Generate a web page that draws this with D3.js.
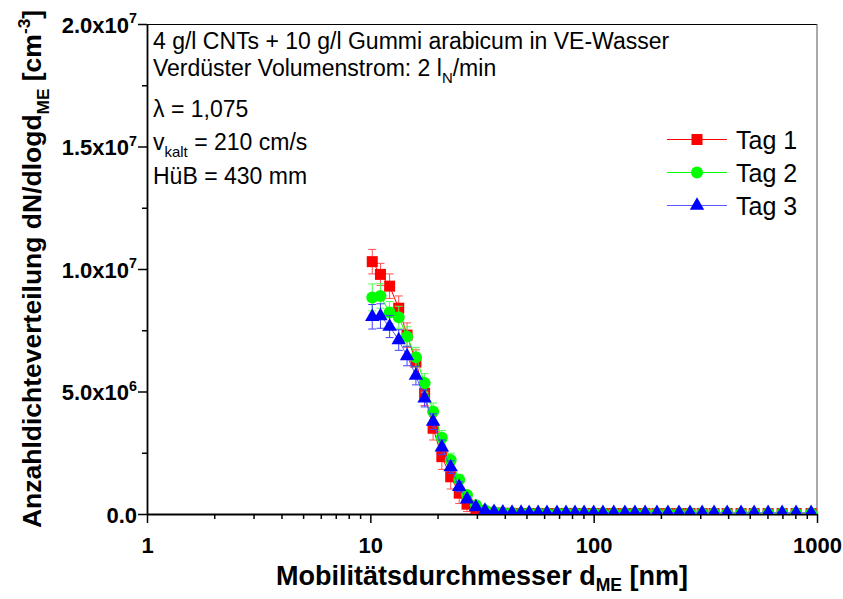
<!DOCTYPE html>
<html>
<head>
<meta charset="utf-8">
<script src="https://cdn.jsdelivr.net/npm/d3@7"></script>
<style>
  body { margin: 0; background: #fff; }
  svg { font-family: Arial, "Liberation Sans", sans-serif; }
</style>
</head>
<body>
<svg id="chart" width="843" height="599"></svg>
<script>
// mobility diameter channels [nm]
const diameters = [10.2, 11.1, 12.2, 13.4, 14.6, 16.0, 17.5, 19.1, 20.9, 22.9, 25.0, 27.1, 29.7, 32.6,
  35.8, 39.2, 43.1, 47.3, 51.4, 56.4, 61.8, 68.5, 75.2, 82.5, 90.6, 100, 110, 123, 138, 153, 170,
  192, 215, 241, 270, 306, 346, 396, 457, 523, 604, 698, 806, 941];

// dN/dlogd [cm^-3]
const tag1 = [10.3e6, 9.78e6, 9.3e6, 8.4e6, 7.3e6, 6.2e6, 4.93e6, 3.5e6, 2.34e6, 1.52e6, 0.85e6, 0.40e6,
  0.16e6, 0.07e6, 0.04e6, 0.03e6, 0.025e6, 0.02e6, 0.02e6, 0.02e6, 0.02e6, 0.02e6, 0.02e6, 0.02e6,
  0.02e6, 0.02e6, 0.02e6, 0.02e6, 0.02e6, 0.02e6, 0.02e6, 0.02e6, 0.02e6, 0.02e6, 0.02e6, 0.02e6,
  0.02e6, 0.02e6, 0.02e6, 0.02e6, 0.02e6, 0.02e6, 0.02e6, 0.02e6];
const tag2 = [8.84e6, 8.9e6, 8.22e6, 8.03e6, 7.24e6, 6.4e6, 5.35e6, 4.18e6, 3.11e6, 2.2e6, 1.4e6, 0.78e6,
  0.36e6, 0.15e6, 0.08e6, 0.05e6, 0.04e6, 0.035e6, 0.035e6, 0.035e6, 0.035e6, 0.035e6, 0.035e6, 0.035e6,
  0.035e6, 0.035e6, 0.035e6, 0.035e6, 0.035e6, 0.035e6, 0.035e6, 0.035e6, 0.035e6, 0.035e6, 0.035e6,
  0.035e6, 0.035e6, 0.035e6, 0.035e6, 0.035e6, 0.035e6, 0.035e6, 0.035e6, 0.035e6];
const tag3 = [8.05e6, 8.08e6, 7.65e6, 7.1e6, 6.45e6, 5.65e6, 4.72e6, 3.77e6, 2.72e6, 1.91e6, 1.11e6, 0.6e6,
  0.28e6, 0.14e6, 0.09e6, 0.07e6, 0.06e6, 0.055e6, 0.05e6, 0.05e6, 0.05e6, 0.05e6, 0.05e6, 0.05e6,
  0.05e6, 0.05e6, 0.05e6, 0.05e6, 0.05e6, 0.05e6, 0.05e6, 0.05e6, 0.05e6, 0.05e6, 0.05e6, 0.05e6,
  0.05e6, 0.05e6, 0.05e6, 0.05e6, 0.05e6, 0.05e6, 0.05e6, 0.05e6];

// standard deviations
const err1 = [0.5e6, 0.45e6, 0.5e6, 0.5e6, 0.5e6, 0.5e6, 0.5e6, 0.48e6, 0.52e6, 0.5e6, 0.42e6, 0.3e6,
  0.15e6, 0.06e6, 0.03e6, 0.02e6, 0.01e6, 0.01e6, 0.01e6, 0.01e6, 0.01e6, 0.01e6, 0.01e6, 0.01e6,
  0.01e6, 0.01e6, 0.01e6, 0.01e6, 0.01e6, 0.01e6, 0.01e6, 0.01e6, 0.01e6, 0.01e6, 0.01e6, 0.01e6,
  0.01e6, 0.01e6, 0.01e6, 0.01e6, 0.01e6, 0.01e6, 0.01e6, 0.01e6];
const err2 = [0.55e6, 0.5e6, 0.45e6, 0.45e6, 0.4e6, 0.4e6, 0.38e6, 0.35e6, 0.3e6, 0.28e6, 0.22e6, 0.15e6,
  0.08e6, 0.04e6, 0.02e6, 0.01e6, 0.01e6, 0.01e6, 0.01e6, 0.01e6, 0.01e6, 0.01e6, 0.01e6, 0.01e6,
  0.01e6, 0.01e6, 0.01e6, 0.01e6, 0.01e6, 0.01e6, 0.01e6, 0.01e6, 0.01e6, 0.01e6, 0.01e6, 0.01e6,
  0.01e6, 0.01e6, 0.01e6, 0.01e6, 0.01e6, 0.01e6, 0.01e6, 0.01e6];
const err3 = [0.5e6, 0.5e6, 0.45e6, 0.42e6, 0.4e6, 0.38e6, 0.35e6, 0.32e6, 0.3e6, 0.26e6, 0.2e6, 0.12e6,
  0.07e6, 0.03e6, 0.02e6, 0.01e6, 0.01e6, 0.01e6, 0.01e6, 0.01e6, 0.01e6, 0.01e6, 0.01e6, 0.01e6,
  0.01e6, 0.01e6, 0.01e6, 0.01e6, 0.01e6, 0.01e6, 0.01e6, 0.01e6, 0.01e6, 0.01e6, 0.01e6, 0.01e6,
  0.01e6, 0.01e6, 0.01e6, 0.01e6, 0.01e6, 0.01e6, 0.01e6, 0.01e6];

const seriesNames = ['Tag 1', 'Tag 2', 'Tag 3'];
const xTicks = [1, 10, 100, 1000];
const yTicks = [0, 5e6, 1e7, 1.5e7, 2e7];

const series = [
  { name: seriesNames[0], values: tag1, errors: err1, color: '#ff0000', line: '#ff0000', bar: '#ff5050', symbol: 'square' },
  { name: seriesNames[1], values: tag2, errors: err2, color: '#00ff00', line: '#00ff00', bar: '#50ff50', symbol: 'circle' },
  { name: seriesNames[2], values: tag3, errors: err3, color: '#0000ff', line: '#5a5aff', bar: '#4040ff', symbol: 'triangle' },
];

const margin = { top: 24, right: 26, bottom: 85, left: 147 };
const width = 843 - margin.left - margin.right;
const height = 599 - margin.top - margin.bottom;

const svg = d3.select('#chart');
const g = svg.append('g').attr('transform', `translate(${margin.left},${margin.top})`);

const x = d3.scaleLog().domain([1, 1000]).range([0, width]);
const y = d3.scaleLinear().domain([0, 2e7]).range([height, 0]);

// text with sub/superscripts: parts = [[text, 'sub'|'sup'|undefined], ...]
function richText(sel, parts, size, subShift = 0.3) {
  let shift = 0;
  parts.forEach(([t, kind]) => {
    const target = kind === 'sub' ? size * subShift : kind === 'sup' ? -size * 0.42 : 0;
    sel.append('tspan')
      .attr('dy', target - shift)
      .attr('font-size', kind ? size * 0.65 : size)
      .text(t);
    shift = target;
  });
}

// frame
g.append('line').attr('x1', 0).attr('x2', width).attr('y1', 0.5).attr('y2', 0.5)
  .attr('stroke', '#000').attr('stroke-width', 1);
g.append('line').attr('x1', width).attr('x2', width).attr('y1', 0).attr('y2', height)
  .attr('stroke', '#555').attr('stroke-width', 1);

// minor ticks
const xMinor = [];
[1, 10, 100].forEach(d => { for (let k = 2; k <= 9; k++) xMinor.push(d * k); });
g.append('g').attr('transform', `translate(0,${height})`)
  .call(d3.axisBottom(x).tickValues(xMinor).tickSize(5).tickFormat(''))
  .call(a => a.select('.domain').remove())
  .selectAll('line').attr('stroke-width', 1.5);
g.append('g')
  .call(d3.axisLeft(y).tickValues([2.5e6, 7.5e6, 1.25e7, 1.75e7]).tickSize(5).tickFormat(''))
  .call(a => a.select('.domain').remove())
  .selectAll('line').attr('stroke-width', 1.5);

// x axis
const xAxis = g.append('g').attr('transform', `translate(0,${height})`)
  .call(d3.axisBottom(x).tickValues(xTicks).tickSize(9).tickSizeOuter(0).tickFormat(d3.format('d')));
xAxis.select('.domain').attr('stroke-width', 1.8);
xAxis.selectAll('.tick line').attr('stroke-width', 1.5);
xAxis.selectAll('.tick text')
  .attr('font-family', 'Arial, "Liberation Sans", sans-serif')
  .attr('font-size', 22).attr('font-weight', 'bold').attr('fill', '#000')
  .attr('dy', null).attr('y', 39);

// y axis
const yAxis = g.append('g')
  .call(d3.axisLeft(y).tickValues(yTicks).tickSize(9).tickSizeOuter(0));
yAxis.select('.domain').attr('stroke-width', 1.8);
yAxis.selectAll('.tick line').attr('stroke-width', 1.5);
yAxis.selectAll('.tick text').each(function (d) {
  const t = d3.select(this).text('')
    .attr('font-family', 'Arial, "Liberation Sans", sans-serif')
    .attr('font-weight', 'bold').attr('fill', '#000')
    .attr('x', -10).attr('dy', null).attr('y', 8);
  if (d === 0) {
    richText(t, [['0.0']], 22);
  } else {
    const e = Math.floor(Math.log10(d));
    richText(t, [[(d / Math.pow(10, e)).toFixed(1) + 'x10'], [String(e), 'sup']], 22);
  }
});

// axis titles
const xt = svg.append('text').attr('x', margin.left + width / 2).attr('y', 585)
  .attr('text-anchor', 'middle').attr('font-weight', 'bold');
richText(xt, [['Mobilitätsdurchmesser d'], ['ME', 'sub'], [' [nm]']], 27, 0.22);

const yt = svg.append('text').attr('transform', `translate(41,${margin.top + height / 2}) rotate(-90)`)
  .attr('text-anchor', 'middle').attr('font-weight', 'bold');
richText(yt, [['Anzahldichteverteilung dN/dlogd'], ['ME', 'sub'], [' [cm'], ['-3', 'sup'], [']']], 26.5);

// data
svg.append('defs').append('clipPath').attr('id', 'plot-clip')
  .append('rect').attr('width', width).attr('height', height);
const plot = g.append('g').attr('clip-path', 'url(#plot-clip)');

function marker(sel, s) {
  if (s.symbol === 'square') {
    sel.append('rect').attr('x', -5.5).attr('y', -5.5).attr('width', 11).attr('height', 11)
      .attr('fill', s.color);
  } else if (s.symbol === 'circle') {
    sel.append('circle').attr('r', 6).attr('fill', s.color);
  } else {
    sel.append('path').attr('d', d3.symbol(d3.symbolTriangle, 90)()).attr('fill', s.color);
  }
}

series.forEach(s => {
  const pts = diameters.map((d, i) => ({ d, v: s.values[i], e: s.errors[i] }));
  const sg = plot.append('g');

  sg.append('path').datum(pts)
    .attr('fill', 'none').attr('stroke', s.line).attr('stroke-width', 1)
    .attr('d', d3.line().x(p => x(p.d)).y(p => y(p.v)));

  const bars = sg.selectAll('.err').data(pts).join('g').attr('class', 'err')
    .attr('stroke', s.bar).attr('stroke-width', 1);
  bars.append('line')
    .attr('x1', p => x(p.d)).attr('x2', p => x(p.d))
    .attr('y1', p => y(p.v - p.e)).attr('y2', p => y(p.v + p.e));
  bars.append('line')
    .attr('x1', p => x(p.d) - 4).attr('x2', p => x(p.d) + 4)
    .attr('y1', p => y(p.v + p.e)).attr('y2', p => y(p.v + p.e));
  bars.append('line')
    .attr('x1', p => x(p.d) - 4).attr('x2', p => x(p.d) + 4)
    .attr('y1', p => y(p.v - p.e)).attr('y2', p => y(p.v - p.e));

  sg.selectAll('.pt').data(pts).join('g').attr('class', 'pt')
    .attr('transform', p => `translate(${x(p.d)},${y(p.v)})`)
    .each(function () { marker(d3.select(this), s); });
});

// annotation
const note = svg.append('g').attr('fill', '#000');
const noteLines = [
  { y: 49, parts: [['4 g/l CNTs + 10 g/l Gummi arabicum in VE-Wasser']] },
  { y: 76, parts: [['Verdüster Volumenstrom: 2 l'], ['N', 'sub'], ['/min']] },
  { y: 117, parts: [['λ = 1,075']] },
  { y: 150, parts: [['v'], ['kalt', 'sub'], [' = 210 cm/s']] },
  { y: 184, parts: [['HüB = 430 mm']] },
];
noteLines.forEach(l => richText(note.append('text').attr('x', 153).attr('y', l.y), l.parts, 23));

// legend
const legend = svg.append('g').attr('transform', 'translate(667,139.5)');
series.forEach((s, i) => {
  const row = legend.append('g').attr('transform', `translate(0,${i * 33})`);
  row.append('line').attr('x1', 0).attr('x2', 60).attr('stroke', s.line).attr('stroke-width', 1);
  marker(row.append('g').attr('transform', 'translate(30,0)'), s);
  row.append('text').attr('x', 69).attr('y', 9).attr('font-size', 25).text(s.name);
});
</script>
</body>
</html>
